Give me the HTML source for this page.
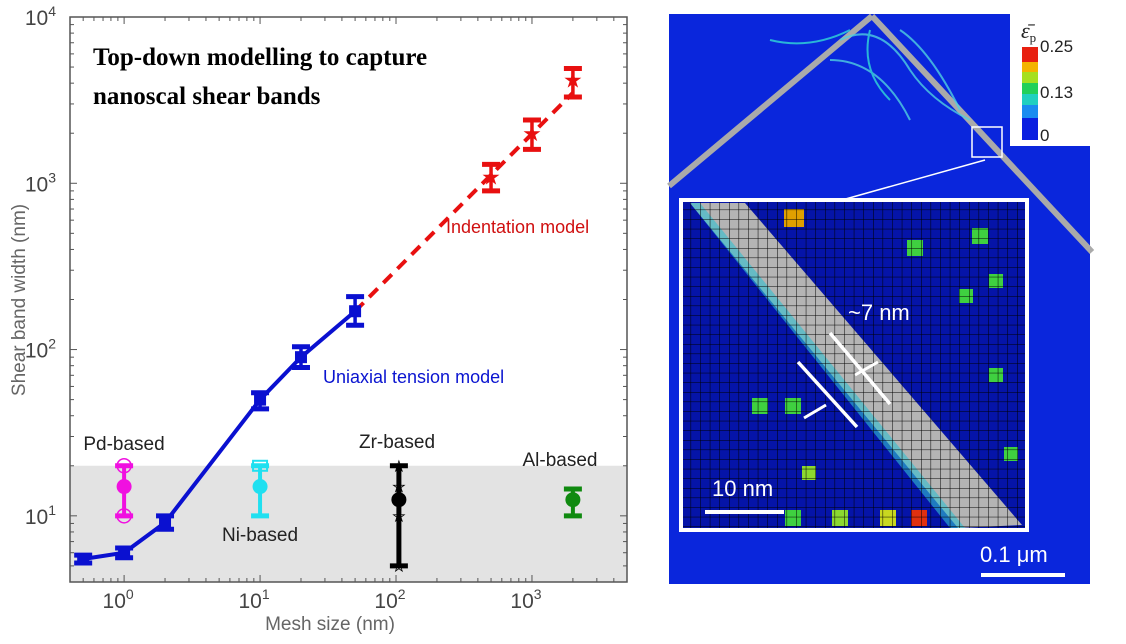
<!DOCTYPE html>
<html><head><meta charset="utf-8"><style>
html,body{margin:0;padding:0;background:#fff;}
body{width:1126px;height:639px;overflow:hidden;font-family:"Liberation Sans",Arial,sans-serif;}
</style></head><body>
<svg id="fig" width="1126" height="639" viewBox="0 0 1126 639" xmlns="http://www.w3.org/2000/svg">
<g id="chart"></g>
<g id="panel">
  <defs>
    <pattern id="grid" x="681" y="200" width="9.6" height="9.6" patternUnits="userSpaceOnUse">
      <path d="M9.6 0 L0 0 0 9.6" fill="none" stroke="#000" stroke-width="1"/>
    </pattern>
  </defs>
  <rect x="669" y="14" width="421" height="570" fill="#0a26dc"/>
  <rect x="1010" y="10" width="90" height="136" fill="#fff"/>
  <line x1="669" y1="186" x2="872" y2="16" stroke="#aaa" stroke-width="6"/>
  <line x1="872" y1="16" x2="1092" y2="252" stroke="#aaa" stroke-width="6"/>
  <path d="M840 40 q40 -20 70 30 q20 30 60 50 M830 60 q50 0 80 60 M900 30 q30 20 60 80" stroke="#4fd0e0" stroke-width="2" fill="none" opacity="0.8"/>
  <path d="M770 40 q40 10 80 -10 M870 30 q-10 40 20 70" stroke="#29b6d8" stroke-width="2" fill="none"/>
  <rect x="972" y="127" width="30" height="30" fill="none" stroke="#fff" stroke-width="1.5"/>
  <line x1="985" y1="160" x2="842" y2="200" stroke="#fff" stroke-width="1.5"/>
  <g>
    <rect x="1022" y="118" width="16" height="22" fill="#0a1fe0"/>
    <rect x="1022" y="105" width="16" height="13" fill="#1a8cf0"/>
    <rect x="1022" y="94" width="16" height="11" fill="#20d0c0"/>
    <rect x="1022" y="83" width="16" height="11" fill="#22d05a"/>
    <rect x="1022" y="72" width="16" height="11" fill="#a6e020"/>
    <rect x="1022" y="62" width="16" height="10" fill="#f4b400"/>
    <rect x="1022" y="47" width="16" height="15" fill="#e82010"/>
    <text x="1040" y="52" font-size="17" fill="#222">0.25</text>
    <text x="1040" y="98" font-size="17" fill="#222">0.13</text>
    <text x="1040" y="141" font-size="17" fill="#222">0</text>
    <text x="1021" y="38" font-size="22" font-style="italic" font-family="Liberation Serif,serif" fill="#222">ε̄<tspan font-size="13" font-style="normal" dy="4">p</tspan></text>
  </g>
  <g>
    <rect x="681" y="200" width="346" height="330" fill="#0514a8"/>
    <polygon points="690,203 745,203 1022,525 958,528" fill="#b4b4b4"/>
    <polygon points="690,203 700,203 965,528 950,528" fill="#30c0d0" opacity="0.6"/>
    <g fill="#3fd040">
      <rect x="784" y="209" width="20" height="18" fill="#e0a000"/>
      <rect x="907" y="240" width="16" height="16"/>
      <rect x="972" y="228" width="16" height="16"/>
      <rect x="959" y="289" width="14" height="14"/>
      <rect x="989" y="274" width="14" height="14"/>
      <rect x="989" y="368" width="14" height="14"/>
      <rect x="752" y="398" width="16" height="16"/>
      <rect x="785" y="398" width="16" height="16"/>
      <rect x="802" y="466" width="14" height="14" fill="#8cd830"/>
      <rect x="1004" y="447" width="14" height="14"/>
      <rect x="785" y="510" width="16" height="16"/>
      <rect x="832" y="510" width="16" height="16" fill="#8cd830"/>
      <rect x="880" y="510" width="16" height="16" fill="#c8d820"/>
      <rect x="911" y="510" width="16" height="16" fill="#e03010"/>
    </g>
    <rect x="681" y="200" width="346" height="330" fill="url(#grid)"/>
    <rect x="681" y="200" width="346" height="330" fill="none" stroke="#fff" stroke-width="4"/>
    <line x1="830" y1="333" x2="890" y2="404" stroke="#fff" stroke-width="3.5"/>
    <line x1="798" y1="362" x2="857" y2="427" stroke="#fff" stroke-width="3.5"/>
    <line x1="878" y1="362" x2="855" y2="375" stroke="#fff" stroke-width="3"/>
    <line x1="804" y1="418" x2="826" y2="405" stroke="#fff" stroke-width="3"/>
    <text x="848" y="320" font-size="22" fill="#fff">~7 nm</text>
    <text x="712" y="496" font-size="22" fill="#fff">10 nm</text>
    <line x1="705" y1="512" x2="784" y2="512" stroke="#fff" stroke-width="4"/>
  </g>
  <text x="980" y="562" font-size="22" fill="#fff">0.1 μm</text>
  <line x1="981" y1="575" x2="1065" y2="575" stroke="#fff" stroke-width="4"/>
</g>
</svg>
<script>
const blueX=[0.5,1,2,10,20,50];
const blueY=[5.5,6,9.1,50,90,170];
const blueLo=[5.2,5.6,8.3,44,78,140];
const blueHi=[5.8,6.4,10,55,104,208];
const redX=[500,1000,2000];
const redY=[1100,2000,4200];
const redLo=[900,1600,3300];
const redHi=[1300,2400,4900];
const redLineX=[50,2000];
const redLineY=[170,3500];
const alloyNames=["Pd-based","Ni-based","Zr-based","Al-based"];
const alloyX=[1,10,105,2000];
const alloyY=[15,15,12.5,12.5];
const alloyLo=[10,10,5,10];
const alloyHi=[20,20,20,14.5];
const xTicks=[1,10,100,1000];
const xTickExp=["0","1","2","3"];
const yTicks=[10,100,1000,10000];
const yTickExp=["1","2","3","4"];
const bandRange=[4,20];

const L=70,R=627,T=17,B=582;
const xmin=0.4,xmax=5000,ymin=4,ymax=10000;
const lg=Math.log10;
function sx(v){return L+(lg(v)-lg(xmin))/(lg(xmax)-lg(xmin))*(R-L);}
function sy(v){return B-(lg(v)-lg(ymin))/(lg(ymax)-lg(ymin))*(B-T);}
const NS="http://www.w3.org/2000/svg";
const g=document.getElementById('chart');
function mk(tag,attrs,parent){const e=document.createElementNS(NS,tag);for(const k in attrs)e.setAttribute(k,attrs[k]);(parent||g).appendChild(e);return e;}

let band=mk('rect',{x:L,y:sy(bandRange[1]),width:R-L,height:sy(bandRange[0])-sy(bandRange[1]),fill:'#e3e3e3'});



let ax=mk('path',{d:`M${L} ${T} H${R} V${B} H${L} Z`,fill:'none',stroke:'#555','stroke-width':1.5});


for(let e=-1;e<=3;e++){for(let m=1;m<10;m++){const v=m*Math.pow(10,e);if(v<xmin||v>xmax)continue;const x=sx(v);const len=m===1?7:4;
 mk('line',{x1:x,y1:B,x2:x,y2:B-len,stroke:'#555','stroke-width':1});mk('line',{x1:x,y1:T,x2:x,y2:T+len,stroke:'#555','stroke-width':1});}}
for(let e=0;e<=4;e++){for(let m=1;m<10;m++){const v=m*Math.pow(10,e);if(v<ymin||v>ymax)continue;const y=sy(v);const len=m===1?7:4;
 mk('line',{x1:L,y1:y,x2:L+len,y2:y,stroke:'#555','stroke-width':1});mk('line',{x1:R,y1:y,x2:R-len,y2:y,stroke:'#555','stroke-width':1});}}
xTicks.forEach((v,i)=>{const t=mk('text',{x:sx(v)-6,y:608,'font-size':21,fill:'#444','text-anchor':'middle'});t.textContent='10';
 
 
 const s=mk('tspan',{'font-size':14,dy:-9},t);s.textContent=xTickExp[i];});
yTicks.forEach((v,i)=>{const t=mk('text',{x:56,y:sy(v)+8,'font-size':21,fill:'#444','text-anchor':'end'});t.textContent='10';
 
 
 const s=mk('tspan',{'font-size':14,dy:-9},t);s.textContent=yTickExp[i];});
let xl=mk('text',{x:330,y:630,'font-size':19,fill:'#666','text-anchor':'middle'});xl.textContent='Mesh size (nm)';


let yl=mk('text',{x:0,y:0,'font-size':19,fill:'#666','text-anchor':'middle',transform:`translate(25,300) rotate(-90)`});yl.textContent='Shear band width (nm)';



function errbar(x,lo,hi,col,w,name){const gg=mk('g',{});
 mk('line',{x1:sx(x),y1:sy(lo),x2:sx(x),y2:sy(hi),stroke:col,'stroke-width':w},gg);
 mk('line',{x1:sx(x)-9,y1:sy(lo),x2:sx(x)+9,y2:sy(lo),stroke:col,'stroke-width':5},gg);
 mk('line',{x1:sx(x)-9,y1:sy(hi),x2:sx(x)+9,y2:sy(hi),stroke:col,'stroke-width':5},gg);}

let rl=mk('line',{x1:sx(redLineX[0]),y1:sy(redLineY[0]),x2:sx(redLineX[1]),y2:sy(redLineY[1]),stroke:'#e81010','stroke-width':4,'stroke-dasharray':'12 8'});


redX.forEach((x,i)=>{errbar(x,redLo[i],redHi[i],'#e81010',3.5,'indentation-errorbar');
 const st=mk('text',{x:sx(x),y:sy(redY[i])+8,'font-size':22,fill:'#e81010','text-anchor':'middle'});st.textContent='★';
 
 });

let bl=mk('polyline',{points:blueX.map((x,i)=>sx(x)+','+sy(blueY[i])).join(' '),fill:'none',stroke:'#0a10d0','stroke-width':4});


blueX.forEach((x,i)=>{errbar(x,blueLo[i],blueHi[i],'#0a10d0',3.5,'uniaxial-errorbar');
 const r=mk('rect',{x:sx(x)-6,y:sy(blueY[i])-6,width:12,height:12,fill:'#0a10d0'});
 
 });

const alloyCols=['#f010e0','#20e0f0','#000','#108a10'];
const labelPos=[[124,450],[260,541],[397,448],[560,466]];
alloyNames.forEach((n,i)=>{const c=alloyCols[i];const x=alloyX[i];
 errbar(x,alloyLo[i],alloyHi[i],c,i===2?5:4,'alloy-errorbar');
 const p=mk('circle',{cx:sx(x),cy:sy(alloyY[i]),r:7.5,fill:c});
 
 
 if(i===0){[alloyLo[i],alloyHi[i]].forEach(v=>mk('circle',{cx:sx(x),cy:sy(v),r:7,fill:'none',stroke:c,'stroke-width':1.5}));}
 if(i===1){mk('rect',{x:sx(x)-7,y:sy(alloyHi[i])-5,width:14,height:10,fill:'none',stroke:c,'stroke-width':2});}
 if(i===2){alloyY.concat([]).slice(0,1);[20,15,10,5].forEach(v=>{const s=mk('text',{x:sx(x),y:sy(v)+5,'font-size':14,fill:'none',stroke:'#000','stroke-width':0.8,'text-anchor':'middle'});s.textContent='★';});}
 const t=mk('text',{x:labelPos[i][0],y:labelPos[i][1],'font-size':19,fill:'#222','text-anchor':'middle'});t.textContent=n;
 
 });

let ut=mk('text',{x:323,y:383,'font-size':18,fill:'#0a14d0'});ut.textContent='Uniaxial tension model';


let it=mk('text',{x:446,y:233,'font-size':18,fill:'#d01010'});it.textContent='Indentation model';


let t1=mk('text',{x:93,y:65,'font-size':25,'font-weight':'bold','font-family':'Liberation Serif,serif',fill:'#000'});t1.textContent='Top-down modelling to capture';


let t2=mk('text',{x:93,y:104,'font-size':25,'font-weight':'bold','font-family':'Liberation Serif,serif',fill:'#000'});t2.textContent='nanoscal shear bands';


</script>
</body></html>
